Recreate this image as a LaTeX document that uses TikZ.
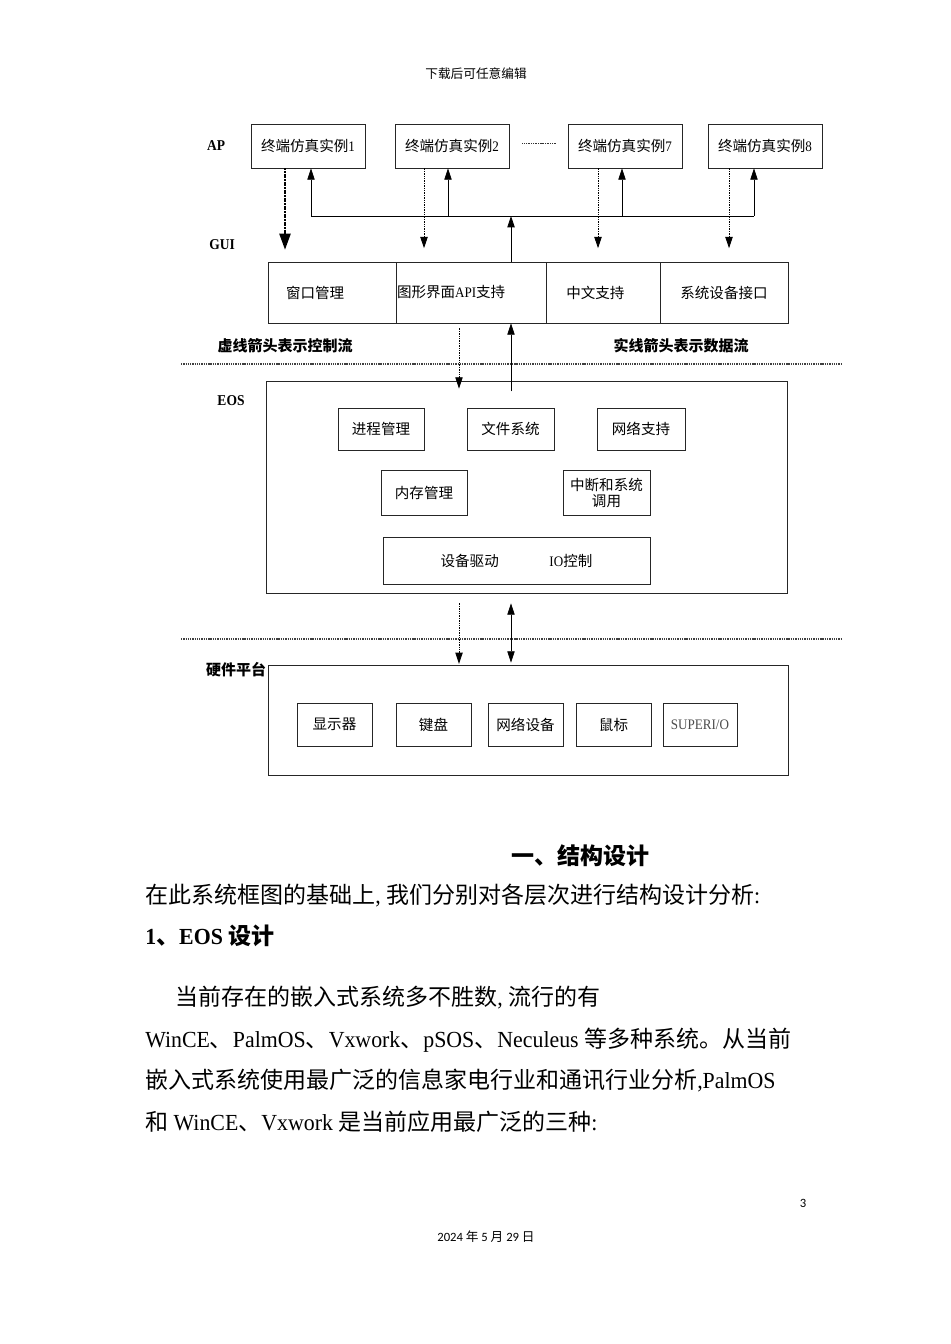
\documentclass[tikz,border=0pt]{standalone}
\usepackage{fontspec}
\setmainfont{Liberation Serif}[FakeStretch=0.9]
\newfontfamily\blat{Liberation Serif}[FakeStretch=0.95]
\newfontfamily\cjk{Noto Sans CJK SC}
\newfontfamily\dsans{Carlito}
\usetikzlibrary{arrows.meta,calc}
\newcommand\bfs{\fontsize{10.9pt}{13pt}\selectfont}
\newcommand\lfs{\fontsize{11.25pt}{13pt}\selectfont}
\newcommand\bodyfs{\fontsize{17.25pt}{20pt}\selectfont}
\newcommand\hfs{\fontsize{9.5pt}{11pt}\selectfont}
\tikzset{
  bx/.style={draw=black!85, line width=0.6pt, inner sep=0pt, font=\bfs},
  sz/.style 2 args={minimum width=#1*0.75pt, minimum height=#2*0.75pt},
  ctrl/.style={draw=black, line width=0.7pt, dash pattern=on 1pt off 0.8pt, -{Triangle[length=8.5pt,width=5.5pt]}},
  ctrlthick/.style={draw=black, line width=1.1pt, dash pattern=on 1.5pt off 0.5pt, -{Triangle[length=12pt,width=8.5pt]}},
  data/.style={draw=black, line width=0.6pt, -{Triangle[length=8.5pt,width=5.5pt]}},
  sepline/.style={line width=0.9pt, dash pattern=on 1pt off 0.7pt, black!75},
  lay/.style={font=\lfs\bfseries, inner sep=0pt},
  body/.style={anchor=west, inner sep=0pt, font=\bodyfs\blat},
}
\begin{document}
\begin{tikzpicture}[x=0.75pt,y=-0.75pt]
\fill[white] (0,0) rectangle (950,1344);
\useasboundingbox (0,0) rectangle (950,1344);

% header
\node[font=\hfs, inner sep=0pt] (hdr) at (476,74) {\cjk 下载后可任意编辑};

% layer labels
\node[lay] (lap) at (216,146) {AP};
\node[lay] (lgui) at (222,245) {GUI};
\node[lay] (leos) at (231,401) {EOS};
\node[lay] (lhw) at (236,670) {\cjk 硬件平台};

% AP boxes
\node[bx, sz={114}{44}] (ap1) at (308,146) {{\cjk 终端仿真实例}1};
\node[bx, sz={114}{44}] (ap2) at (452,146) {{\cjk 终端仿真实例}2};
\node[bx, sz={114}{44}] (ap7) at (625,146) {{\cjk 终端仿真实例}7};
\node[bx, sz={114}{44}] (ap8) at (765,146) {{\cjk 终端仿真实例}8};
\draw[line width=0.7pt, dash pattern=on 0.8pt off 0.5pt, black!80] ($(ap2.east)+(13,-3)$) -- ($(ap7.west)+(-12,-3)$);

% GUI boxes
\node[bx, sz={128}{61}, text width=69pt, align=left] (g1) at (332,292.5) {\cjk 窗口管理};
\node[bx, sz={150}{61}, text width=111pt, align=left] (g2) at (471,292.5) {{\cjk 图形界面}API{\cjk 支持}};
\node[bx, sz={114}{61}, text width=55pt, align=left] (g3) at (603,292.5) {\cjk 中文支持};
\node[bx, sz={128}{61}] (g4) at (724,292.5) {\cjk 系统设备接口};

% AP <-> GUI arrows
\coordinate (b1) at (311,216);
\coordinate (b2) at (448,216);
\coordinate (b7) at (622,216);
\coordinate (b8) at (754,216);
\coordinate (bc) at (511,216);
\draw[line width=0.6pt] (b1) -- (b8);
\draw[data] (b1) -- (b1 |- ap1.south);
\draw[data] (b2) -- (b2 |- ap2.south);
\draw[data] (b7) -- (b7 |- ap7.south);
\draw[data] (b8) -- (b8 |- ap8.south);
\draw[data] (bc |- g2.north) -- (bc);
\draw[ctrlthick, shorten >=9pt] (285,0 |- ap1.south) -- (285,0 |- g1.north);
\draw[ctrl, shorten >=10pt] (424,0 |- ap2.south) -- (424,0 |- g2.north);
\draw[ctrl, shorten >=10pt] (598,0 |- ap7.south) -- (598,0 |- g3.north);
\draw[ctrl, shorten >=10pt] (729,0 |- ap8.south) -- (729,0 |- g4.north);

% legend labels
\node[lay] (lctl) at (285,346) {\cjk 虚线箭头表示控制流};
\node[lay] (ldat) at (681,346) {\cjk 实线箭头表示数据流};

% separators
\coordinate (s1l) at (181,364);
\coordinate (s1r) at (842,364);
\coordinate (s2l) at (181,639);
\coordinate (s2r) at (842,639);
\draw[sepline] (s1l) -- (s1r);
\draw[sepline] (s2l) -- (s2r);

% EOS
\node[bx, sz={521}{212}] (eos) at (526.5,487) {};
\node[bx, sz={86}{42}] (e1) at (381,429) {\cjk 进程管理};
\node[bx, sz={87}{42}] (e2) at (510.5,429) {\cjk 文件系统};
\node[bx, sz={88}{42}] (e3) at (641,429) {\cjk 网络支持};
\node[bx, sz={86}{45}] (e4) at (424,492.5) {\cjk 内存管理};
\node[bx, sz={87}{45}, align=center] (e5) at (606.5,492.5) {\cjk 中断和系统\\[-1pt]\cjk 调用};
\node[bx, sz={267}{47}] (e6) at (516.5,560.5) {{\cjk 设备驱动}\hspace{38pt}IO{\cjk 控制}};

% GUI <-> EOS
\draw[ctrl, shorten <=3.75pt, shorten >=-6pt] (459,0 |- g2.south) -- (459,0 |- eos.north);
\draw[data, shorten <=-8pt] (511,0 |- eos.north) -- (511,0 |- g2.south);

% hardware
\node[bx, sz={520}{110}] (hw) at (528,720) {};
\node[bx, sz={75}{43}] (h1) at (334.5,724.5) {\cjk 显示器};
\node[bx, sz={75}{43}] (h2) at (433.5,724.5) {\cjk 键盘};
\node[bx, sz={75}{43}] (h3) at (525.5,724.5) {\cjk 网络设备};
\node[bx, sz={75}{43}] (h4) at (613.5,724.5) {\cjk 鼠标};
\node[bx, sz={74}{43}, text=black!70] (h5) at (700,724.5) {SUPERI/O};

% EOS <-> hardware
\draw[ctrl, shorten <=7.5pt, shorten >=0.5pt] (459,0 |- eos.south) -- (459,0 |- hw.north);
\draw[data, {Triangle[length=8.5pt,width=5.5pt]}-{Triangle[length=8.5pt,width=5.5pt]}, shorten <=7.5pt, shorten >=1.5pt] (511,0 |- eos.south) -- (511,0 |- hw.north);

% body text
\node[inner sep=0pt, font=\bodyfs\bfseries] (t0) at (580,856) {\cjk 一、结构设计};
\node[body] (t1) at (145,896) {{\cjk 在此系统框图的基础上}, {\cjk 我们分别对各层次进行结构设计分析}:};
\node[body, font=\bodyfs\bfseries\blat] (t2) at (145,936) {1{\cjk 、}EOS {\cjk 设计}};
\node[body] (t3) at (175,998) {{\cjk 当前存在的嵌入式系统多不胜数}, {\cjk 流行的有}};
\node[body] (t4) at (145,1040) {WinCE{\cjk 、}PalmOS{\cjk 、}Vxwork{\cjk 、}pSOS{\cjk 、}Neculeus {\cjk 等多种系统。从当前}};
\node[body] (t5) at (145,1080) {{\cjk 嵌入式系统使用最广泛的信息家电行业和通讯行业分析},PalmOS};
\node[body] (t6) at (145,1122) {{\cjk 和} WinCE{\cjk 、}Vxwork {\cjk 是当前应用最广泛的三种}:};

% footer
\node[inner sep=0pt, font=\dsans\fontsize{9.5pt}{11pt}\selectfont] (pg) at (803,1203) {3};
\node[inner sep=0pt, font=\dsans\fontsize{9.5pt}{11pt}\selectfont] (date) at (486,1237) {2024 {\cjk 年} 5 {\cjk 月} 29 {\cjk 日}};
\end{tikzpicture}
\end{document}
